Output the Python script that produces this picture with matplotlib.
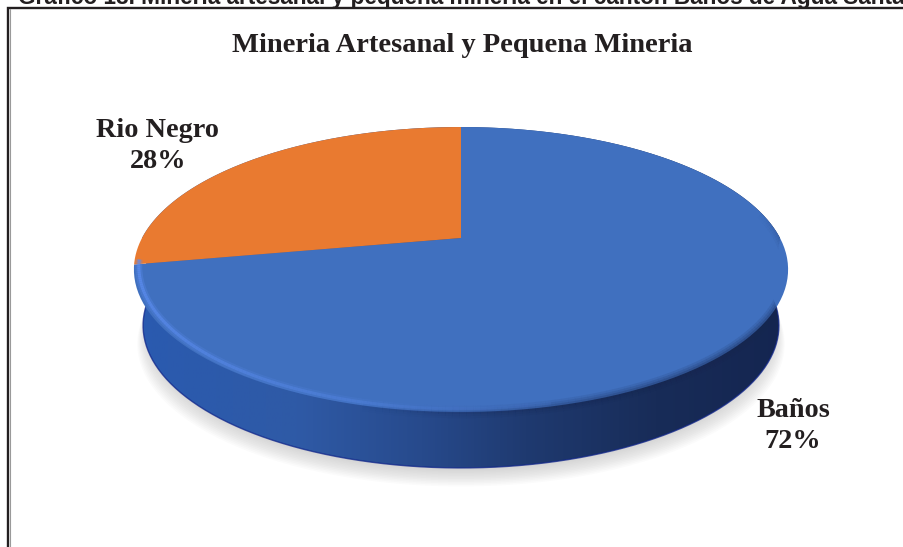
import matplotlib
matplotlib.use('Agg')
import matplotlib.pyplot as plt
import numpy as np
from matplotlib.collections import LineCollection
from matplotlib.colors import LinearSegmentedColormap, to_rgb
from matplotlib.patches import Polygon
from matplotlib.path import Path
from matplotlib.transforms import Affine2D

names = ['Baños', 'Rio Negro']
values = [72, 28]
slice_colors = ['#4070bf', '#e97a30']
title = 'Mineria Artesanal y Pequena Mineria'
header = 'Gráfico 18. Minería artesanal y pequeña minería en el cantón Baños de Agua Santa'

# perspective of the tilted disc, in pixels
CX, CY, RX = 461, 238, 319
P, Q = -82.9, 0.221
DEPTH = 56


def project(v, u):
    w = 1 + Q * u
    return CX + RX * v / w, (CY + P * u) / w


def rim(deg):
    t = np.radians(deg)
    return project(np.cos(t), np.sin(t))


def lower_rim(deg):
    x, y = rim(deg)
    return CX + 0.972 * (x - CX), y + DEPTH


def fading_line(x, y, color, alphas, lw, z):
    pts = np.column_stack([x, y]).reshape(-1, 1, 2)
    segs = np.concatenate([pts[:-1], pts[1:]], axis=1)
    rgba = np.zeros((len(segs), 4))
    rgba[:, :3] = to_rgb(color)
    rgba[:, 3] = alphas
    lc = LineCollection(segs, colors=rgba, linewidths=lw, zorder=z)
    ax.add_collection(lc)
    return lc


fig = plt.figure(figsize=(9.04, 5.47), dpi=100)
ax = fig.add_axes([0, 0, 1, 1])

wedges, _ = ax.pie(values, startangle=90, counterclock=False, colors=slice_colors)
ax.set_aspect('auto')
ax.set_xlim(0, 904)
ax.set_ylim(547, 0)
ax.axis('off')

# soft shadow under the disc
deg = np.linspace(0, -180, 200)
sx, sy = lower_rim(deg)
for k in range(12):
    pts = np.column_stack([CX + (sx - CX) * (0.985 + 0.003 * k), sy + 1.5 * k + 2])
    ax.add_patch(Polygon(np.vstack([pts, [[CX, 300]]]), fc='#8a8a8a', ec='none',
                         alpha=0.03, zorder=1))

# side wall, shaded from left to right
up = np.linspace(180, 0, 200)
down = np.linspace(0, -180, 200)
ux, uy = rim(up)
dx, dy = lower_rim(down)
wall = np.vstack([np.column_stack([ux, uy]), np.column_stack([dx, dy])])
stops = [(0.0, '#2a5ab0'), (0.25, '#2f5aa6'), (0.44, '#274a8c'), (0.6, '#1f3a70'),
         (0.8, '#182c58'), (1.0, '#142550')]
cmap = LinearSegmentedColormap.from_list('wall', stops)
im = ax.imshow(np.linspace(0, 1, 256).reshape(1, -1), cmap=cmap, aspect='auto',
               extent=(134, 788, 480, 120), zorder=2)
im.set_clip_path(Path(wall), transform=ax.transData)
ax.set_xlim(0, 904)
ax.set_ylim(547, 0)
ax.plot(dx, dy, color='#10258a', lw=1.0, alpha=0.75, zorder=3)

# slices from the pie, pushed through the perspective
for w, c in zip(wedges, slice_colors):
    poly = w.get_path().transformed(Affine2D().scale(500)).to_polygons()[0] / 500
    w.remove()
    x, y = project(poly[:, 0], poly[:, 1])
    ax.add_patch(Polygon(np.column_stack([x, y]), fc=c, ec='none', zorder=4))

# dark soft edge on the right of the face, kept inside the disc
t = np.linspace(-105, 12, 120)
x, y = rim(t)
bump = np.sin(np.linspace(0, np.pi, len(x) - 1))
for lw, a in [(9, 0.12), (6, 0.16), (3, 0.22)]:
    lc = fading_line(x, y, '#16264f', a * bump, lw, 5)
    lc.set_clip_path(Path(wall), transform=ax.transData)

# light rim on the left of the face
t = np.linspace(190, 283, 120)
x, y = rim(t)
x = CX + 0.985 * (x - CX)
y = y - 3
fade = np.clip(1.1 - np.linspace(0, 1, len(x) - 1), 0, 1)
fading_line(x, y, '#5c8df0', fade * 0.3, 5, 6)
fading_line(x, y, '#5c8df0', fade * 0.7, 2.2, 6)

# frame of the pasted picture
ax.plot([8, 8, 904], [547, 7.5, 7.5], color='#231f20', lw=1.7, zorder=7,
        solid_joinstyle='miter', clip_on=False)
ax.plot([9.6, 9.6], [9, 547], color='#9a9a9a', lw=0.8, zorder=7)

serif = 'Liberation Serif'
ax.text(462, 46, title, family=serif, weight='bold', size=20.5, color='#231f20',
        ha='center', va='center', zorder=8)
ax.text(158, 146, f'{names[1]}\n{values[1]}%', family=serif, weight='bold', size=20.3,
        color='#231f20', ha='center', va='center', linespacing=1.32, zorder=8)
ax.text(793, 426, f'{names[0]}\n{values[0]}%', family=serif, weight='bold', size=20.3,
        color='#231f20', ha='center', va='center', linespacing=1.32, zorder=8)
ax.text(18, 4, header, family='Liberation Sans', weight='bold', size=16.3, color='#231f20',
        ha='left', va='baseline', zorder=8, clip_on=False)

fig.savefig('out.png', dpi=100)
